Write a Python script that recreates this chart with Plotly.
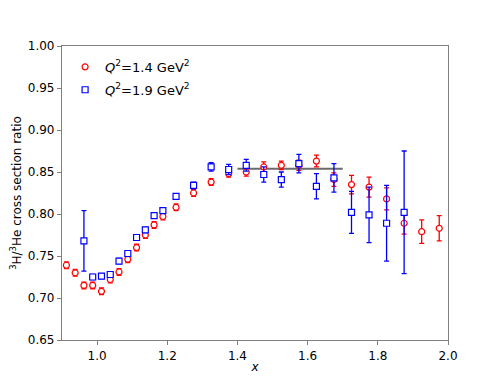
import plotly.graph_objects as go

# Q^2 = 1.4 GeV^2 (red circles)
x_q14 = [0.9125, 0.9375, 0.9625, 0.9875, 1.0125, 1.0375, 1.0625, 1.0875, 1.1125, 1.1375,
         1.1625, 1.1875, 1.225, 1.275, 1.325, 1.375, 1.425, 1.475, 1.525, 1.575,
         1.625, 1.675, 1.725, 1.775, 1.825, 1.875, 1.925, 1.975]
y_q14 = [0.739, 0.730, 0.715, 0.715, 0.708, 0.722, 0.731, 0.746, 0.760, 0.775,
         0.787, 0.797, 0.808, 0.825, 0.838, 0.848, 0.850, 0.856, 0.858, 0.858,
         0.863, 0.841, 0.835, 0.832, 0.818, 0.789, 0.779, 0.783]
e_q14 = [0.004, 0.004, 0.004, 0.004, 0.004, 0.004, 0.004, 0.004, 0.004, 0.004,
         0.004, 0.004, 0.004, 0.004, 0.004, 0.004, 0.005, 0.006, 0.005, 0.006,
         0.007, 0.008, 0.011, 0.012, 0.013, 0.013, 0.014, 0.015]

# Q^2 = 1.9 GeV^2 (blue squares)
x_q19 = [0.9625, 0.9875, 1.0125, 1.0375, 1.0625, 1.0875, 1.1125, 1.1375, 1.1625, 1.1875,
         1.225, 1.275, 1.325, 1.375, 1.425, 1.475, 1.525, 1.575, 1.625, 1.675,
         1.725, 1.775, 1.825, 1.875]
y_q19 = [0.768, 0.725, 0.726, 0.728, 0.744, 0.753, 0.772, 0.781, 0.798, 0.804,
         0.821, 0.834, 0.856, 0.853, 0.858, 0.847, 0.841, 0.860, 0.833, 0.843,
         0.802, 0.799, 0.789, 0.802]
e_q19 = [0.036, 0.003, 0.003, 0.003, 0.003, 0.003, 0.003, 0.003, 0.003, 0.003,
         0.003, 0.004, 0.005, 0.006, 0.007, 0.009, 0.009, 0.011, 0.015, 0.017,
         0.025, 0.033, 0.045, 0.073]

# plateau average line
avg_x = [1.4, 1.7]
avg_y = [0.854, 0.854]

x_ticks = [1.0, 1.2, 1.4, 1.6, 1.8, 2.0]
y_ticks = [0.65, 0.70, 0.75, 0.80, 0.85, 0.90, 0.95, 1.00]

FONT = "DejaVu Sans"

fig = go.Figure()

fig.add_trace(go.Scatter(
    x=avg_x, y=avg_y, mode="lines",
    line=dict(color="rgba(80,80,80,0.85)", width=2),
    showlegend=False, hoverinfo="skip"))

fig.add_trace(go.Scatter(
    x=x_q14, y=y_q14, mode="markers",
    name="<i>Q</i><sup>2</sup>=1.4 GeV<sup>2</sup>", legendgroup="a",
    marker=dict(symbol="circle", size=6, color="white",
                line=dict(color="red", width=1.2)),
    error_y=dict(type="data", array=e_q14, visible=True,
                 color="red", thickness=1.3, width=2.5)))

fig.add_trace(go.Scatter(
    x=x_q19, y=y_q19, mode="markers",
    name="<i>Q</i><sup>2</sup>=1.9 GeV<sup>2</sup>", legendgroup="b",
    marker=dict(symbol="square", size=6, color="white",
                line=dict(color="blue", width=1.2)),
    error_y=dict(type="data", array=e_q19, visible=True,
                 color="blue", thickness=1.3, width=2.5)))

axis_common = dict(
    showline=True, mirror=True, linecolor="#808080", linewidth=1.2,
    ticks="outside", ticklen=4, tickcolor="#808080", tickwidth=1,
    showgrid=False, zeroline=False, automargin=False,
    tickfont=dict(family=FONT, size=12, color="black"),
)

fig.update_layout(
    width=482, height=366,
    margin=dict(l=54, r=42, t=38, b=34),
    paper_bgcolor="white", plot_bgcolor="white",
    font=dict(family=FONT, size=12, color="black"),
    xaxis=dict(range=[0.9, 2.0], tickvals=x_ticks,
               ticktext=[f"{v:.1f}" for v in x_ticks],
               title=dict(text="<i>x</i>", font=dict(family=FONT, size=12), standoff=3),
               **axis_common),
    yaxis=dict(range=[0.65, 1.0], tickvals=y_ticks,
               ticktext=[f"{v:.2f}" for v in y_ticks],
               title=dict(text="<sup>3</sup>H/<sup>3</sup>He cross section ratio",
                          font=dict(family=FONT, size=12), standoff=6),
               **axis_common),
    legend=dict(x=0.008, y=0.98, xanchor="left", yanchor="top",
                traceorder="grouped", tracegroupgap=3,
                bgcolor="rgba(255,255,255,0)", borderwidth=0,
                font=dict(family=FONT, size=13)),
)

fig.write_html("out.html")
